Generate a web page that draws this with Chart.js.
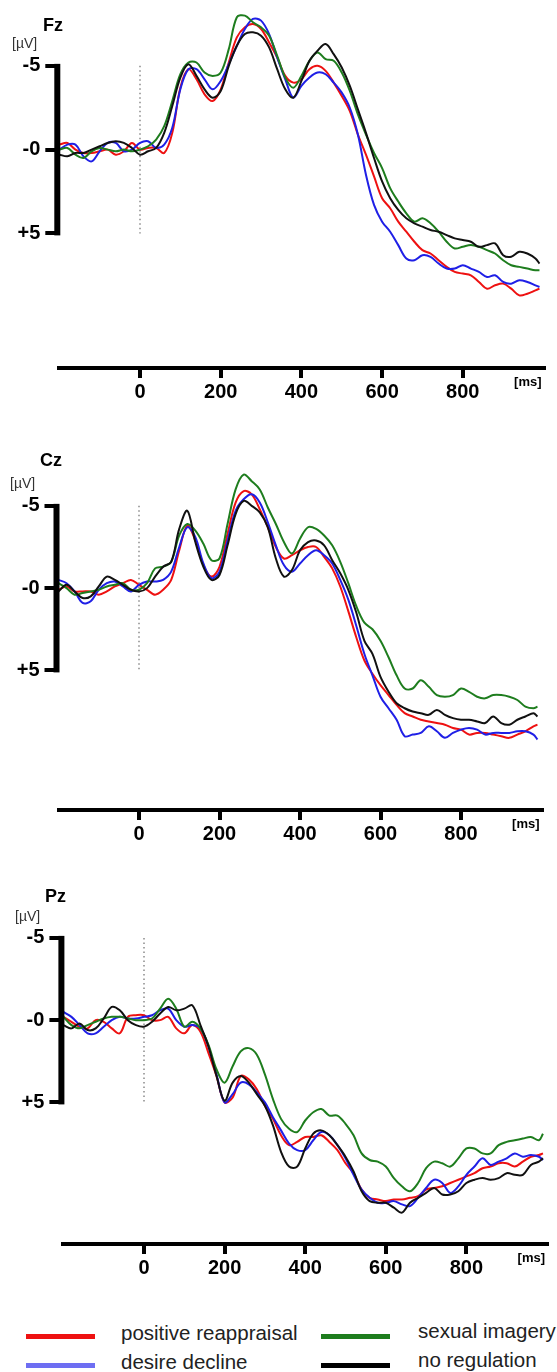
<!DOCTYPE html>
<html>
<head>
<meta charset="utf-8">
<script src="https://cdn.jsdelivr.net/npm/chart.js@4.4.1/dist/chart.umd.min.js"></script>
<style>
  body { margin: 0; background: #fff; }
  #page { position: relative; width: 557px; height: 1372px; overflow: hidden; font-family: "Liberation Sans", Arial, sans-serif; }
  canvas { position: absolute; left: 0; }
  .lg-line { position: absolute; height: 5px; width: 69px; }
  .lg-text { position: absolute; font-size: 20.5px; color: #222; line-height: 24px; white-space: nowrap; }
</style>
</head>
<body>
<div id="page">
  <canvas id="fz"></canvas>
  <canvas id="cz"></canvas>
  <canvas id="pz"></canvas>

  <div class="lg-line" style="left:26px; top:1334px; background:#ee1111;"></div>
  <div class="lg-text" style="left:121px; top:1321px;">positive reappraisal</div>
  <div class="lg-line" style="left:321px; top:1334px; background:#1e7d1e;"></div>
  <div class="lg-text" style="left:418px; top:1319px;">sexual imagery</div>
  <div class="lg-line" style="left:26px; top:1363px; background:#6e6ef2;"></div>
  <div class="lg-text" style="left:121px; top:1350px;">desire decline</div>
  <div class="lg-line" style="left:321px; top:1363px; background:#000;"></div>
  <div class="lg-text" style="left:418px; top:1348px;">no regulation</div>
</div>

<script>
// time points (ms)
const times = [-200, -180, -160, -140, -120, -100, -80, -60, -40, -20,
  0, 20, 40, 60, 80, 100, 120, 140, 160, 180,
  200, 220, 240, 260, 280, 300, 320, 340, 360, 380,
  400, 420, 440, 460, 480, 500, 520, 540, 560, 580,
  600, 620, 640, 660, 680, 700, 720, 740, 760, 780,
  800, 820, 840, 860, 880, 900, 920, 940, 960, 980,
  990];

const xTicks = [0, 200, 400, 600, 800];
const yTicks = [-5, 0, 5];
const yTickLabels = ['-5', '-0', '+5'];

const seriesNames = ['positive reappraisal', 'desire decline', 'sexual imagery', 'no regulation'];

// Fz (µV)
const fzReappraisal = [-0.3, -0.4, 0.0, 0.2, 0.2, 0.1, 0.0, 0.3, 0.1, -0.4,
  0.0, -0.1, -0.1, 0.2, -1.0, -3.7, -4.8, -4.2, -3.3, -2.9,
  -3.6, -5.2, -6.7, -7.3, -7.5, -7.2, -6.4, -5.5, -4.4, -4.0,
  -4.2, -4.8, -5.0, -4.7, -4.0, -3.2, -2.3, -0.9, 0.3, 1.6,
  2.9, 3.5, 4.3, 4.9, 5.5, 6.0, 6.2, 6.6, 7.0, 7.3,
  7.4, 7.5, 7.9, 8.3, 8.1, 8.0, 8.3, 8.7, 8.6, 8.4,
  8.3];
const fzDecline = [0.0, -0.3, -0.3, 0.4, 0.7, 0.1, -0.4, -0.4, 0.1, 0.0,
  -0.4, -0.5, -0.1, -0.3, -1.3, -3.6, -4.8, -4.8, -4.2, -3.6,
  -4.1, -5.1, -6.2, -7.2, -7.8, -7.7, -6.9, -5.5, -4.2, -3.1,
  -3.8, -4.3, -4.6, -4.5, -4.0, -3.4, -2.5, -0.9, 1.5, 3.3,
  4.3, 4.9, 5.7, 6.5, 6.6, 6.3, 6.4, 6.8, 7.1, 7.1,
  6.9, 7.1, 7.3, 7.6, 7.5, 7.9, 8.0, 7.8, 7.9, 8.1,
  8.2];
const fzImagery = [0.0, -0.1, 0.3, 0.5, 0.1, -0.1, 0.0, 0.1, 0.0, 0.1,
  0.0, -0.2, -0.6, -1.4, -2.9, -4.5, -5.2, -5.2, -4.6, -4.4,
  -4.6, -6.0, -7.9, -8.0, -7.6, -7.3, -6.8, -5.6, -4.3, -3.7,
  -4.4, -5.3, -5.8, -5.4, -5.3, -4.6, -3.5, -2.1, -0.9, 0.2,
  1.1, 2.3, 3.1, 3.8, 4.3, 4.1, 4.4, 4.9, 5.5, 5.9,
  5.8, 5.7, 5.8, 6.0, 6.2, 6.6, 6.9, 7.0, 7.1, 7.2,
  7.2];
const fzNoReg = [0.3, 0.4, 0.2, 0.2, 0.0, -0.2, -0.4, -0.5, -0.4, -0.1,
  0.3, 0.1, -0.1, -1.0, -2.6, -4.3, -5.1, -4.4, -3.6, -3.1,
  -3.5, -5.0, -6.2, -6.9, -7.0, -6.8, -6.1, -4.8, -3.6, -3.1,
  -4.1, -5.3, -5.9, -6.3, -5.7, -4.9, -3.8, -2.4, -1.0, 0.5,
  1.9, 2.9, 3.6, 4.1, 4.4, 4.6, 4.8, 4.9, 5.1, 5.3,
  5.4, 5.5, 5.8, 5.7, 5.6, 6.3, 6.4, 6.1, 6.2, 6.5,
  6.8];

// Cz (µV)
const czReappraisal = [0.1, -0.1, 0.2, 0.2, 0.2, 0.4, 0.2, -0.1, -0.3, -0.5,
  -0.2, 0.1, 0.4, 0.1, -0.5, -2.3, -3.8, -2.9, -1.4, -0.7,
  -1.3, -3.3, -5.2, -5.9, -5.7, -4.8, -3.7, -2.5, -1.8, -2.0,
  -2.3, -2.5, -2.5, -1.9, -1.2, -0.1, 1.4, 3.0, 4.4, 5.2,
  5.9, 6.5, 7.1, 7.6, 7.8, 8.0, 8.1, 8.2, 8.3, 8.5,
  8.6, 8.9, 8.8, 8.8, 8.9, 9.0, 9.1, 8.9, 8.7, 8.4,
  8.3];
const czDecline = [-0.5, -0.3, 0.2, 0.9, 0.8, 0.1, -0.3, -0.4, -0.1, 0.2,
  -0.2, -0.4, -0.4, -0.5, -1.0, -2.5, -3.7, -3.1, -1.5, -0.6,
  -1.0, -2.9, -4.7, -5.4, -5.7, -5.2, -4.0, -2.6, -1.4, -1.0,
  -1.5, -2.0, -2.3, -2.0, -1.5, -0.5, 0.7, 2.3, 4.0, 5.3,
  6.6, 7.3, 8.0, 9.0, 8.9, 8.8, 8.4, 8.7, 9.1, 8.8,
  8.6, 8.5, 8.6, 8.9, 8.8, 8.8, 8.8, 8.7, 8.7, 8.9,
  9.2];
const czImagery = [-0.3, 0.0, 0.4, 0.3, 0.2, 0.1, -0.1, -0.2, -0.3, 0.1,
  0.1, -0.3, -1.2, -1.3, -1.6, -3.2, -3.9, -3.5, -2.7, -1.7,
  -1.8, -3.9, -6.0, -6.9, -6.5, -6.0, -4.9, -3.9, -2.8, -2.1,
  -3.0, -3.7, -3.6, -3.2, -2.6, -1.6, -0.3, 1.1, 2.1, 2.5,
  3.2, 4.2, 5.3, 6.1, 6.1, 5.6, 6.0, 6.5, 6.6, 6.5,
  6.1, 6.3, 6.6, 6.7, 6.5, 6.5, 6.6, 6.8, 7.2, 7.3,
  7.2];
const czNoReg = [0.2, -0.2, 0.2, 0.6, 0.5, -0.1, -0.7, -0.5, -0.2, 0.1,
  0.2, 0.0, -0.7, -1.3, -1.6, -3.6, -4.7, -2.8, -1.3, -0.5,
  -0.8, -2.6, -4.5, -5.3, -5.0, -4.6, -3.7, -1.8, -0.7, -1.1,
  -2.3, -2.8, -2.9, -2.6, -1.7, -0.9, 0.1, 1.5, 3.2, 4.0,
  5.4, 6.3, 7.0, 7.3, 7.5, 7.6, 7.7, 7.4, 7.7, 7.9,
  8.0, 8.0, 8.1, 8.2, 7.8, 8.2, 8.3, 8.0, 7.8, 7.6,
  7.8];

// Pz (µV)
const pzReappraisal = [-0.2, 0.1, 0.4, 0.5, 0.0, 0.1, 0.5, 0.8, -0.2, -0.3,
  -0.3, 0.0, 0.0, -0.2, 0.5, 0.8, 0.3, 0.7, 2.0, 3.4,
  5.0, 4.7, 3.4, 3.6, 4.2, 5.2, 6.0, 7.0, 7.6, 7.4,
  7.1, 7.1, 7.0, 7.4, 7.9, 8.7, 9.3, 10.3, 10.8, 10.9,
  11.0, 10.9, 10.9, 10.8, 10.7, 10.3, 10.2, 10.1, 9.9, 9.7,
  9.5, 9.3, 9.0, 8.9, 8.7, 8.7, 8.9, 8.6, 8.3, 8.2,
  8.1];
const pzDecline = [-0.5, -0.2, 0.3, 0.8, 0.8, 0.4, 0.0, -0.2, -0.1, -0.1,
  -0.2, -0.3, -0.6, -0.7, 0.0, 0.4, 0.3, 0.5, 1.6, 3.3,
  5.0, 4.5, 3.8, 3.9, 4.4, 5.0, 5.9, 6.7, 7.5, 7.9,
  7.9, 7.3, 6.8, 7.0, 7.6, 8.4, 9.4, 10.3, 10.8, 11.1,
  11.1, 11.0, 11.2, 11.3, 10.8, 10.2, 9.7, 9.9, 10.5, 10.1,
  9.4, 8.9, 8.4, 8.8, 8.6, 8.4, 8.1, 8.3, 8.2, 8.3,
  8.5];
const pzImagery = [-0.2, 0.3, 0.5, 0.3, 0.1, -0.1, -0.2, -0.2, -0.1, 0.0,
  0.0, -0.1, -0.7, -1.3, -0.7, 0.4, 0.1, 0.5, 1.5, 3.0,
  3.8, 2.8, 1.9, 1.7, 2.1, 3.3, 4.8, 6.0, 6.6, 6.8,
  6.1, 5.6, 5.4, 5.8, 5.8, 6.3, 7.0, 8.1, 8.5, 8.6,
  8.9, 9.6, 10.1, 10.4, 9.9, 9.0, 8.6, 8.7, 8.9, 8.4,
  7.8, 7.8, 8.1, 8.1, 7.6, 7.4, 7.3, 7.2, 7.1, 7.3,
  6.9];
const pzNoReg = [0.3, 0.5, 0.2, 0.6, 0.5, -0.1, -0.8, -0.6, 0.0, 0.3,
  0.4, 0.1, -0.4, -0.8, -0.6, -0.7, -0.9, 0.3, 1.6, 3.4,
  4.9, 3.8, 3.4, 3.8, 4.5, 5.2, 6.4, 8.0, 8.9, 8.9,
  7.8, 6.9, 6.7, 7.0, 7.6, 8.3, 9.2, 10.4, 11.0, 11.1,
  11.1, 11.4, 11.7, 11.1, 10.8, 10.5, 10.2, 10.6, 10.6, 10.4,
  9.9, 9.7, 9.6, 9.7, 9.6, 9.3, 9.4, 9.4, 8.8, 8.6,
  8.4];

const lineColors = ['#ee1111', '#1f1fe6', '#1e7d1e', '#111111'];

// panel placement (page pixels)
const panels = [
  { id: 'fz', name: 'Fz', top: 0,   axisY: 368,  yNeg5: 65,  yPos5: 233,  zeroX: 140, px200: 80.7,
    titleX: 43, titleY: 26, unitX: 12, unitY: 44,
    series: [fzReappraisal, fzDecline, fzImagery, fzNoReg] },
  { id: 'cz', name: 'Cz', top: 440, axisY: 810,  yNeg5: 505, yPos5: 670,  zeroX: 139, px200: 80.5,
    titleX: 40, titleY: 461, unitX: 10, unitY: 484,
    series: [czReappraisal, czDecline, czImagery, czNoReg] },
  { id: 'pz', name: 'Pz', top: 880, axisY: 1244, yNeg5: 937, yPos5: 1102, zeroX: 144, px200: 80.6,
    titleX: 45, titleY: 897, unitX: 15, unitY: 917,
    series: [pzReappraisal, pzDecline, pzImagery, pzNoReg] }
];

const W = 557;
const PAD_TOP = 16; // larger than half a tick label, so Chart.js keeps it
const X_AXIS_H = 45;
const FONT = '"Liberation Sans", Arial, sans-serif';

function panelDecor(p) {
  return {
    id: 'decor_' + p.id,
    beforeDatasetsDraw(chart) {
      const ctx = chart.ctx;
      const x = chart.scales.x, y = chart.scales.y;
      // stimulus onset marker
      ctx.save();
      ctx.strokeStyle = '#8a8a8a';
      ctx.lineWidth = 1.5;
      ctx.setLineDash([1.5, 3]);
      const x0 = x.getPixelForValue(0);
      ctx.beginPath();
      ctx.moveTo(x0, y.getPixelForValue(-5));
      ctx.lineTo(x0, y.getPixelForValue(5));
      ctx.stroke();
      ctx.restore();
    },
    afterDraw(chart) {
      const ctx = chart.ctx;
      const y = chart.scales.y;
      const area = chart.chartArea;
      const t = p.top;
      ctx.save();
      // amplitude bar from -5 to +5
      ctx.fillStyle = '#000';
      const yTop = y.getPixelForValue(-5), yBot = y.getPixelForValue(5);
      ctx.fillRect(area.left - 5, yTop - 2, 6, yBot - yTop + 4);
      // channel name and unit
      ctx.textBaseline = 'middle';
      ctx.textAlign = 'left';
      ctx.font = 'bold 18px ' + FONT;
      ctx.fillText(p.name, p.titleX, p.titleY - t);
      ctx.font = '14px ' + FONT;
      ctx.fillStyle = '#333';
      ctx.fillText('[µV]', p.unitX, p.unitY - t);
      // time unit
      ctx.fillStyle = '#000';
      ctx.textAlign = 'right';
      ctx.font = 'bold 13px ' + FONT;
      ctx.fillText('[ms]', area.right - 2, area.bottom + 14);
      ctx.restore();
    }
  };
}

panels.forEach(p => {
  const canvas = document.getElementById(p.id);
  const h = p.axisY - p.top + X_AXIS_H;
  canvas.width = W;
  canvas.height = h;
  canvas.style.top = p.top + 'px';
  canvas.style.width = W + 'px';
  canvas.style.height = h + 'px';

  const k = (p.yPos5 - p.yNeg5) / 10;
  const areaTop = p.top + PAD_TOP;
  const yMin = -5 - (p.yNeg5 - areaTop) / k;
  const yMax = 5 + (p.axisY - p.yPos5) / k;
  const leftX = p.zeroX - p.px200;
  const rightX = p.zeroX + 5 * p.px200;

  const datasets = p.series.map((vals, i) => ({
    label: seriesNames[i],
    data: times.map((t, j) => ({ x: t, y: vals[j] })),
    borderColor: lineColors[i],
    borderWidth: 2,
    pointRadius: 0,
    tension: 0.35,
    fill: false,
    clip: false
  }));
  // draw black first so the coloured curves sit on top
  const ordered = [datasets[3], datasets[2], datasets[1], datasets[0]];

  new Chart(canvas.getContext('2d'), {
    type: 'line',
    data: { datasets: ordered },
    options: {
      responsive: false,
      animation: false,
      devicePixelRatio: 1,
      layout: { padding: { top: PAD_TOP, right: W - rightX, left: 0, bottom: 0 } },
      plugins: { legend: { display: false }, tooltip: { enabled: false } },
      scales: {
        x: {
          type: 'linear',
          min: -200,
          max: 1000,
          afterBuildTicks: s => { s.ticks = xTicks.map(v => ({ value: v })); },
          afterFit: s => { s.height = X_AXIS_H; },
          border: { display: true, color: '#000', width: 4 },
          grid: { display: true, drawOnChartArea: false, drawTicks: true, tickLength: 10, lineWidth: 4, color: '#000' },
          ticks: { color: '#000', padding: 2, maxRotation: 0, autoSkip: false, font: { family: FONT, size: 20, weight: 'bold' } }
        },
        y: {
          type: 'linear',
          reverse: true,
          min: yMin,
          max: yMax,
          afterBuildTicks: s => { s.ticks = yTicks.map(v => ({ value: v })); },
          afterFit: s => { s.width = leftX; },
          border: { display: false },
          grid: { display: true, drawOnChartArea: false, drawTicks: true, tickLength: 14, lineWidth: 4, color: '#000' },
          ticks: {
            color: '#000',
            padding: 5,
            font: { family: FONT, size: 20, weight: 'bold' },
            callback: (v, i) => yTickLabels[i]
          }
        }
      }
    },
    plugins: [panelDecor(p)]
  });
});
</script>
</body>
</html>
